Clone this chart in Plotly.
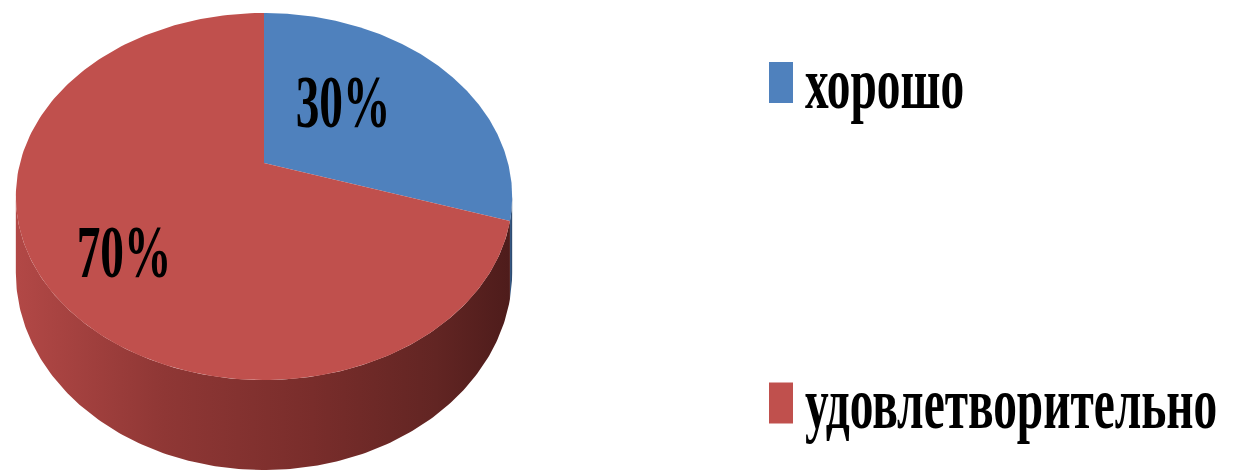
import numpy as np
import plotly.graph_objects as go

# ---- data -------------------------------------------------------------
categories = ["хорошо", "удовлетворительно"]
values = [30, 70]
top_colors = ["#4F81BD", "#C0504D"]
side_scales = [
    [[0, "#3a5f8c"], [1, "#2a4568"]],
    [[0, "#b24846"], [0.3, "#8f3735"], [0.6, "#792d2b"], [0.85, "#622523"], [1, "#4e1c1b"]],
]

# ---- canvas / projection of the tilted disc ---------------------------
W, H = 1258, 472
CX, CY = 264, 163      # projected centre of the top face
RX, RY = 244, 177.4    # horizontal / vertical radius scale
K = 0.1826             # perspective strength (near side larger)
DEPTH = 73.6           # thickness of the disc
SQUEEZE = 0.64         # horizontal condensing of the labels


def proj(theta_deg, r=1.0, drop=0.0):
    t = np.radians(theta_deg)
    u = r * np.sin(t)
    v = -r * np.cos(t)
    w = 1 - K * v
    return CX + RX * u / w, CY + (RY * v + drop) / w


def arc(a0, a1, drop=0.0, n=200):
    th = np.linspace(a0, a1, n)
    return proj(th, 1.0, drop)


total = float(sum(values))
bounds = np.concatenate([[0], np.cumsum(values) / total * 360.0])

fig = go.Figure()

# visible side wall spans between the two silhouette points
side_lo = np.degrees(np.arccos(-K))
side_hi = 360 - side_lo

for i, cat in enumerate(categories):
    a0, a1 = max(bounds[i], side_lo), min(bounds[i + 1], side_hi)
    if a1 <= a0:
        continue
    tx, ty = arc(a0, a1)
    bx, by = arc(a1, a0, DEPTH)
    fig.add_trace(go.Scatter(
        x=np.concatenate([tx, bx]), y=np.concatenate([ty, by]),
        mode="lines", fill="toself", line=dict(width=0),
        fillgradient=dict(type="horizontal", colorscale=side_scales[i]),
        hoverinfo="skip", showlegend=False,
    ))

# top face slices
for i, cat in enumerate(categories):
    ax, ay = arc(bounds[i], bounds[i + 1])
    fig.add_trace(go.Scatter(
        x=np.concatenate([[CX], ax, [CX]]), y=np.concatenate([[CY], ay, [CY]]),
        mode="lines", fill="toself", fillcolor=top_colors[i],
        line=dict(width=0), name=cat, hoverinfo="name", showlegend=False,
    ))

# percentage labels on the slices
label_radius = [0.42, 0.66]
label_lift = [19, -15]
for i, v in enumerate(values):
    mid = (bounds[i] + bounds[i + 1]) / 2
    lx, ly = proj(mid, label_radius[i])
    fig.add_annotation(
        x=lx, y=ly, xref="x", yref="y", showarrow=False, yshift=label_lift[i],
        text=f"<b>{round(v / total * 100)}%</b>",
        font=dict(family="Liberation Serif", size=74, color="#000000"),
        xanchor="center", yanchor="middle",
    )

# legend: coloured keys with item names
legend_rows = [82.5, 403]
for i, cat in enumerate(categories):
    yc = legend_rows[i]
    fig.add_shape(type="rect", xref="x", yref="y",
                  x0=769, x1=793, y0=yc - 20.5, y1=yc + 20.5,
                  fillcolor=top_colors[i], line=dict(width=0))
    fig.add_annotation(
        x=803, y=yc, xref="x", yref="y", showarrow=False, text=f"<b>{cat}</b>",
        font=dict(family="Liberation Serif", size=74, color="#000000"),
        xanchor="left", yanchor="middle", align="left",
    )

fig.update_layout(
    width=W, height=H, margin=dict(l=0, r=0, t=0, b=0),
    paper_bgcolor="white", plot_bgcolor="white", showlegend=False,
    xaxis=dict(range=[0, W], visible=False, fixedrange=True),
    yaxis=dict(range=[H, 0], visible=False, fixedrange=True),
)

condense_css = f"""
var s = document.createElement('style');
s.textContent = '.annotation-text {{ transform-box: fill-box; transform-origin: 50% 50%; transform: scaleX({SQUEEZE}); }}'
  + '.annotation-text[text-anchor="start"] {{ transform-origin: 0 50%; }}';
document.head.appendChild(s);
"""

fig.write_html("out.html", post_script=condense_css)
